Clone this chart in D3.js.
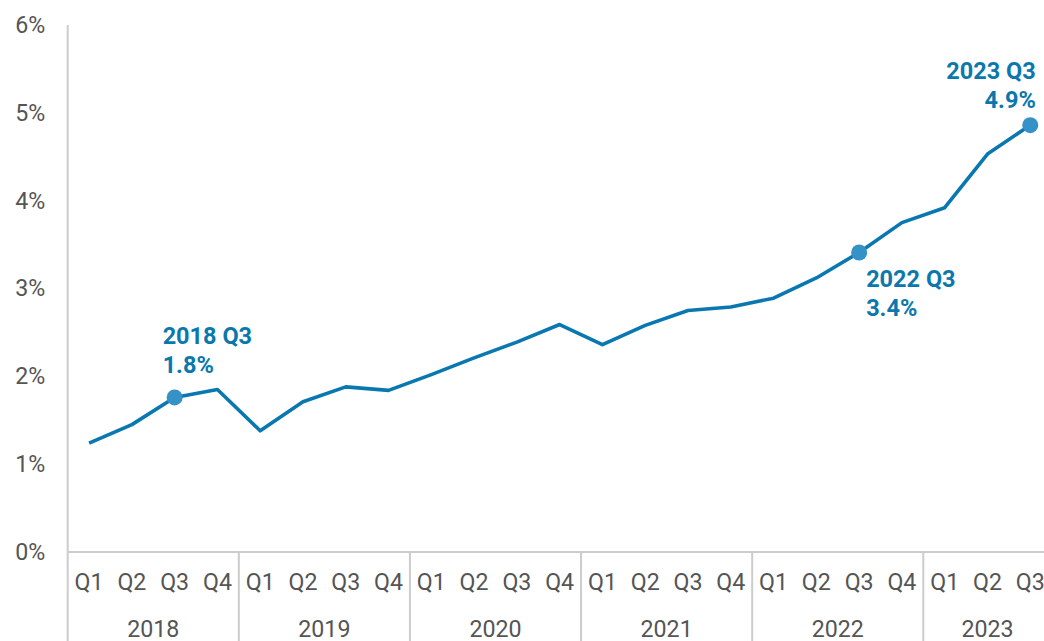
<!DOCTYPE html>
<html>
<head>
<meta charset="utf-8">
<script src="https://cdn.jsdelivr.net/npm/d3@7"></script>
<style>
    html, body { margin: 0; padding: 0; background: #fff; }
    svg { display: block; font-family: Roboto, "Noto Sans", sans-serif; }
</style>
</head>
<body>
<svg id="chart" width="1044" height="641"></svg>
<script>
/* Quarterly rate line chart, 2018 Q1 - 2023 Q3 */

const YEARS = ['2018', '2019', '2020', '2021', '2022', '2023'];
const QUARTERS = ['Q1', 'Q2', 'Q3', 'Q4'];
const QUARTERS_PER_YEAR = [4, 4, 4, 4, 4, 3];

// percent values
const VALUES = [
    1.24, 1.45, 1.76, 1.85,
    1.38, 1.71, 1.88, 1.84,
    2.02, 2.21, 2.39, 2.59,
    2.36, 2.58, 2.75, 2.79,
    2.89, 3.12, 3.41, 3.75,
    3.92, 4.53, 4.86
];

const Y_TICKS = [0, 1, 2, 3, 4, 5, 6];

// points that get a dot and a callout
const HIGHLIGHTS = ['2018 Q3', '2022 Q3', '2023 Q3'];

const LINE_COLOR = '#0a78b0';
const DOT_COLOR = '#3592c6';
const LABEL_COLOR = '#0b78ad';
const AXIS_COLOR = '#cccccc';
const TEXT_COLOR = '#555555';
const FONT_SIZE = 23.2;
const LABEL_SIZE = 23.5;

// build the category list
const categories = [];
YEARS.forEach((yr, i) => {
    for (let q = 0; q < QUARTERS_PER_YEAR[i]; q++) {
        categories.push({ year: yr, quarter: QUARTERS[q], key: `${yr} ${QUARTERS[q]}` });
    }
});
const points = categories.map((c, i) => ({ ...c, value: VALUES[i] }));

const W = 1044;
const H = 641;
const marginLeft = 67.7;
const marginTop = 25;
const baseY = 552;
const band = 42.78;

const svg = d3.select('#chart');

const x = d3.scaleBand()
    .domain(categories.map(c => c.key))
    .range([marginLeft, marginLeft + band * categories.length])
    .padding(0);

const y = d3.scaleLinear()
    .domain([0, 6])
    .range([baseY, marginTop]);

const cx = key => x(key) + x.bandwidth() / 2;

// y axis labels
const yAxis = svg.append('g')
    .attr('transform', `translate(${marginLeft},0)`)
    .call(d3.axisLeft(y).tickValues(Y_TICKS).tickSize(0).tickPadding(22.5)
        .tickFormat(d => d + '%'));
yAxis.select('.domain').remove();
yAxis.selectAll('text')
    .attr('font-size', FONT_SIZE)
    .attr('font-family', 'Roboto, sans-serif')
    .attr('fill', TEXT_COLOR);

// axis lines
svg.append('line')
    .attr('x1', marginLeft).attr('x2', marginLeft)
    .attr('y1', marginTop).attr('y2', H)
    .attr('stroke', AXIS_COLOR).attr('stroke-width', 2);

svg.append('line')
    .attr('x1', marginLeft).attr('x2', W)
    .attr('y1', baseY).attr('y2', baseY)
    .attr('stroke', AXIS_COLOR).attr('stroke-width', 2);

// quarter labels
svg.append('g')
    .selectAll('text')
    .data(categories)
    .join('text')
    .attr('x', d => cx(d.key))
    .attr('y', 582)
    .attr('dy', '0.35em')
    .attr('text-anchor', 'middle')
    .attr('font-size', FONT_SIZE)
    .attr('fill', TEXT_COLOR)
    .text(d => d.quarter);

// year groups: separators and labels
const groups = YEARS.map(yr => {
    const keys = categories.filter(c => c.year === yr).map(c => c.key);
    return {
        year: yr,
        x0: x(keys[0]),
        x1: x(keys[keys.length - 1]) + x.bandwidth()
    };
});

svg.append('g')
    .selectAll('line')
    .data(groups.slice(1))
    .join('line')
    .attr('x1', d => d.x0).attr('x2', d => d.x0)
    .attr('y1', baseY).attr('y2', H)
    .attr('stroke', AXIS_COLOR).attr('stroke-width', 2);

svg.append('g')
    .selectAll('text')
    .data(groups)
    .join('text')
    .attr('x', d => (d.x0 + d.x1) / 2)
    .attr('y', 629)
    .attr('dy', '0.35em')
    .attr('text-anchor', 'middle')
    .attr('font-size', FONT_SIZE)
    .attr('fill', TEXT_COLOR)
    .text(d => d.year);

// the line
const line = d3.line()
    .x(d => cx(d.key))
    .y(d => y(d.value));

svg.append('path')
    .datum(points)
    .attr('d', line)
    .attr('fill', 'none')
    .attr('stroke', LINE_COLOR)
    .attr('stroke-width', 3.6)
    .attr('stroke-linejoin', 'round');

// highlighted dots + callouts
const hl = points.filter(p => HIGHLIGHTS.includes(p.key));
const fmt = d3.format('.1f');

svg.append('g')
    .selectAll('circle')
    .data(hl)
    .join('circle')
    .attr('cx', d => cx(d.key))
    .attr('cy', d => y(d.value))
    .attr('r', 8)
    .attr('fill', DOT_COLOR);

// label placement per callout: [dx, dy of first line, anchor]
const placement = {
    '2018 Q3': [-12, -62, 'start'],
    '2022 Q3': [7, 26, 'start'],
    '2023 Q3': [5.5, -54.5, 'end']
};

hl.forEach(d => {
    const [dx, dy, anchor] = placement[d.key];
    const t = svg.append('text')
        .attr('x', cx(d.key) + dx)
        .attr('y', y(d.value) + dy)
        .attr('text-anchor', anchor)
        .attr('font-size', LABEL_SIZE)
        .attr('font-weight', 'bold')
        .attr('fill', LABEL_COLOR);
    t.append('tspan')
        .attr('x', cx(d.key) + dx)
        .attr('dy', '0.35em')
        .text(d.key);
    t.append('tspan')
        .attr('x', cx(d.key) + dx)
        .attr('dy', 29.5)
        .text(fmt(d.value) + '%');
});
</script>
</body>
</html>
